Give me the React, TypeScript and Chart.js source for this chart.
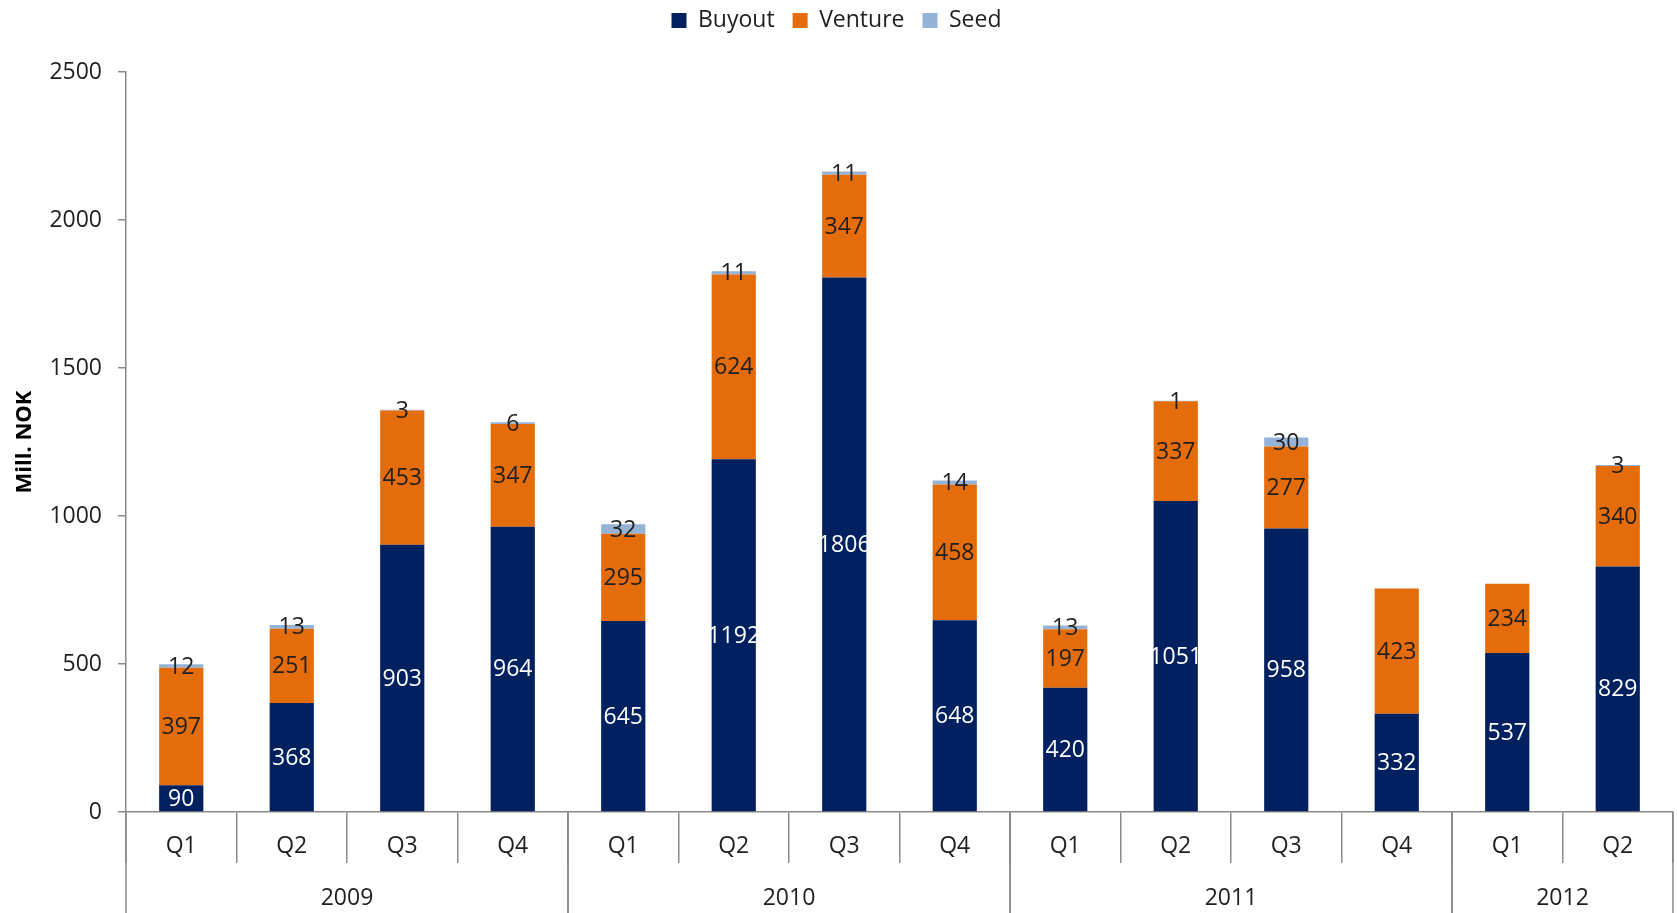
import React, { useEffect, useRef } from 'react';
import { Chart, registerables } from 'chart.js';

Chart.register(...registerables);

const quarters = ['Q1', 'Q2', 'Q3', 'Q4', 'Q1', 'Q2', 'Q3', 'Q4', 'Q1', 'Q2', 'Q3', 'Q4', 'Q1', 'Q2'];
const years = ['2009', '2010', '2011', '2012'];
const quartersPerYear = [4, 4, 4, 2];
const buyout = [90, 368, 903, 964, 645, 1192, 1806, 648, 420, 1051, 958, 332, 537, 829];
const venture = [397, 251, 453, 347, 295, 624, 347, 458, 197, 337, 277, 423, 234, 340];
const seed = [12, 13, 3, 6, 32, 11, 11, 14, 13, 1, 30, 0, 0, 3];
const yMin = 0;
const yMax = 2500;
const yStep = 500;

const FONT = "'Open Sans', 'DejaVu Sans', sans-serif";
const FS = 23;
const AXIS = '#8a8a8a';
const TEXT = '#1f1f1f';

const labelPlugin = {
  id: 'segmentLabels',
  afterDatasetsDraw(chart: any) {
    const ctx = chart.ctx;
    ctx.save();
    ctx.font = `${FS}px ${FONT}`;
    ctx.textAlign = 'center';
    ctx.textBaseline = 'middle';
    chart.data.datasets.forEach((ds: any, di: number) => {
      const meta = chart.getDatasetMeta(di);
      ctx.fillStyle = di === 0 ? '#ffffff' : TEXT;
      meta.data.forEach((el: any, i: number) => {
        const v = ds.data[i];
        if (!v) return;
        const p = el.getProps(['x', 'y', 'base'], true);
        ctx.fillText(String(v), p.x, (p.y + p.base) / 2 + 1);
      });
    });
    ctx.restore();
  },
};

const yearPlugin = {
  id: 'yearGroups',
  afterDraw(chart: any) {
    const x = chart.scales.x;
    const ctx = chart.ctx;
    const half = (x.getPixelForValue(1) - x.getPixelForValue(0)) / 2;
    ctx.save();
    ctx.strokeStyle = AXIS;
    ctx.lineWidth = 1.5;
    ctx.fillStyle = TEXT;
    ctx.font = `${FS}px ${FONT}`;
    ctx.textAlign = 'center';
    ctx.textBaseline = 'middle';
    let idx = 0;
    years.forEach((yr, g) => {
      const n = quartersPerYear[g];
      const left = x.getPixelForValue(idx) - half;
      const right = x.getPixelForValue(idx + n - 1) + half;
      ctx.beginPath();
      ctx.moveTo(left, x.top);
      ctx.lineTo(left, chart.height);
      ctx.moveTo(right, x.top);
      ctx.lineTo(right, chart.height);
      ctx.stroke();
      ctx.fillText(yr, (left + right) / 2, x.top + 86);
      idx += n;
    });
    ctx.restore();
  },
};

export default function App() {
  const ref = useRef<HTMLCanvasElement>(null);
  useEffect(() => {
    document.body.style.margin = '0';
    document.body.style.overflow = 'hidden';
    const chart = new Chart(ref.current as HTMLCanvasElement, {
      type: 'bar',
      data: {
        labels: quarters,
        datasets: [
          { label: 'Buyout', data: buyout, backgroundColor: '#002060' },
          { label: 'Venture', data: venture, backgroundColor: '#E46C0A' },
          { label: 'Seed', data: seed, backgroundColor: '#95B3D7' },
        ],
      },
      options: {
        responsive: false,
        animation: false,
        devicePixelRatio: 1,
        datasets: { bar: { categoryPercentage: 1, barPercentage: 0.4 } },
        layout: { padding: { top: -9, left: 0, right: 4, bottom: 0 } },
        plugins: {
          legend: {
            position: 'top',
            labels: {
              boxWidth: 15,
              boxHeight: 15,
              padding: 18,
              color: TEXT,
              font: { family: FONT, size: FS },
            },
          },
          title: {
            display: true,
            text: '',
            weight: 500,
            font: { size: 1, lineHeight: 1 },
            padding: { top: 0, bottom: 29 },
          } as any,
          tooltip: { enabled: false },
        },
        scales: {
          x: {
            stacked: true,
            grid: { drawOnChartArea: false, tickLength: 51, color: AXIS, lineWidth: 1.5 },
            border: { color: AXIS, width: 1.5 },
            ticks: { color: TEXT, font: { family: FONT, size: FS }, padding: -30, maxRotation: 0 },
            afterFit: (s: any) => { s.height = 101; },
          },
          y: {
            stacked: true,
            min: yMin,
            max: yMax,
            grid: { drawOnChartArea: false, tickLength: 8, color: AXIS, lineWidth: 1.5 },
            border: { color: AXIS, width: 1.5 },
            ticks: {
              stepSize: yStep,
              color: TEXT,
              font: { family: FONT, size: FS },
              padding: 16,
              callback: (v: any) => String(v),
            },
            title: {
              display: true,
              text: 'Mill. NOK',
              color: '#000000',
              font: { family: FONT, size: 22, weight: 'bold' },
              padding: { top: 12, bottom: 0 },
            },
            afterFit: (s: any) => { s.width = 126; },
          },
        },
      },
      plugins: [labelPlugin, yearPlugin],
    } as any);
    return () => chart.destroy();
  }, []);
  return <canvas ref={ref} width={1677} height={913} style={{ display: 'block' }} />;
}
